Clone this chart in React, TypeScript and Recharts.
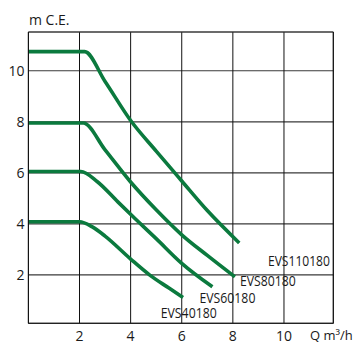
import React from 'react';
import { LineChart, Line, XAxis, YAxis, CartesianGrid, ReferenceLine } from 'recharts';

// Flow Q (m³/h) and head H (m C.E.) for each pump curve
const Q_EVS110180 = [0, 2.2, 3, 4, 5, 6, 7, 8.25];
const H_EVS110180 = [10.75, 10.75, 9.58, 8.05, 6.85, 5.68, 4.52, 3.25];
const Q_EVS80180 = [0, 2.15, 3, 4, 5, 6, 7, 8.08];
const H_EVS80180 = [7.95, 7.95, 6.9, 5.64, 4.55, 3.57, 2.76, 1.92];
const Q_EVS60180 = [0, 2.05, 2.7, 3.5, 4.2, 5, 6, 7.2];
const H_EVS60180 = [6.05, 6.05, 5.65, 4.86, 4.18, 3.42, 2.45, 1.53];
const Q_EVS40180 = [0, 2.0, 2.5, 3, 4, 4.75, 5.5, 6.05];
const H_EVS40180 = [4.08, 4.08, 3.88, 3.52, 2.62, 1.99, 1.48, 1.11];

const SERIES_NAMES = ['EVS110180', 'EVS80180', 'EVS60180', 'EVS40180'];
const X_TICKS = [2, 4, 6, 8, 10];
const Y_TICKS = [2, 4, 6, 8, 10];
const X_DOMAIN = [0, 11.93];
const Y_DOMAIN = [0.1, 11.52];
const Y_TITLE = 'm C.E.';
const X_TITLE = 'Q m³/h';

const zip = (q: number[], h: number[]) => q.map((v, i) => ({ q: v, h: h[i] }));
const SERIES_DATA = [
  zip(Q_EVS110180, H_EVS110180),
  zip(Q_EVS80180, H_EVS80180),
  zip(Q_EVS60180, H_EVS60180),
  zip(Q_EVS40180, H_EVS40180),
];

// label placement styles relative to the curve end point
const LABEL_STYLE = [
  { dx: 28.7, dy: 23.5, len: 62 },
  { dx: 5, dy: 9.5, len: 56 },
  { dx: -13, dy: 16.5, len: 56 },
  { dx: -22.3, dy: 20.8, len: 56 },
];

const GREEN = '#0b7a3e';
const FONT = "'Open Sans', sans-serif";

const makeLabel = (si: number) => (props: any) => {
  const { x, y, index } = props;
  if (index !== SERIES_DATA[si].length - 1) return null;
  const s = LABEL_STYLE[si];
  return (
    <text
      x={x + s.dx}
      y={y + s.dy}
      fontFamily={FONT}
      fontSize={14}
      fill="#1a1a1a"
      textLength={s.len}
      lengthAdjust="spacingAndGlyphs"
    >
      {SERIES_NAMES[si]}
    </text>
  );
};

export default function App() {
  return (
    <div style={{ position: 'absolute', left: 0, top: 0 }}>
      <LineChart
        width={353}
        height={342}
        margin={{ top: 32, right: 19.7, bottom: 0, left: 0 }}
      >
        <CartesianGrid vertical={false} stroke="#3a3a3a" strokeWidth={1.2} />
        <CartesianGrid horizontal={false} stroke="#111" strokeWidth={1} />
        <XAxis
          type="number"
          dataKey="q"
          domain={X_DOMAIN}
          ticks={X_TICKS}
          height={18.7}
          tickSize={0}
          tickMargin={8}
          tickLine={false}
          axisLine={{ stroke: '#222', strokeWidth: 1.3 }}
          tick={{ fontFamily: FONT, fontSize: 14, fill: '#1a1a1a' }}
          allowDataOverflow
        />
        <YAxis
          type="number"
          domain={Y_DOMAIN}
          ticks={Y_TICKS}
          width={28.4}
          tickSize={0}
          tickMargin={4}
          tickLine={false}
          axisLine={{ stroke: '#111', strokeWidth: 1 }}
          tick={{ fontFamily: FONT, fontSize: 14, fill: '#1a1a1a' }}
          allowDataOverflow
        />
        <ReferenceLine y={Y_DOMAIN[1]} stroke="#3a3a3a" strokeWidth={1.2} />
        <ReferenceLine x={X_DOMAIN[1]} stroke="#111" strokeWidth={1} />
        {SERIES_DATA.map((d, i) => (
          <Line
            key={SERIES_NAMES[i]}
            data={d}
            dataKey="h"
            type="monotone"
            stroke={GREEN}
            strokeWidth={3.6}
            dot={false}
            activeDot={false}
            isAnimationActive={false}
            label={makeLabel(i)}
          />
        ))}
        <text x={29} y={25} fontFamily={FONT} fontSize={14} fill="#1a1a1a">
          {Y_TITLE}
        </text>
        <text x={310} y={340} fontFamily={FONT} fontSize={13} fill="#1a1a1a">
          {X_TITLE}
        </text>
      </LineChart>
    </div>
  );
}
